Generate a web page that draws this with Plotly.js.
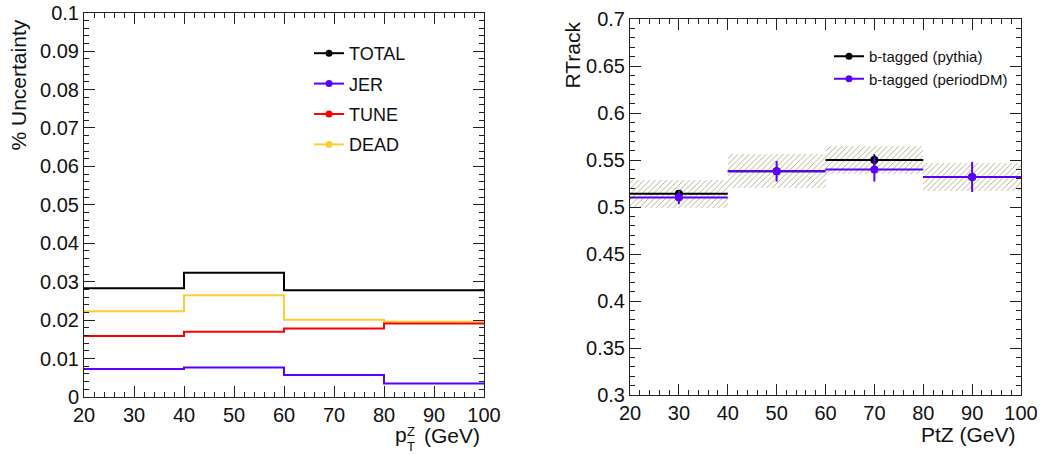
<!DOCTYPE html>
<html><head><meta charset="utf-8">
<script src="https://cdn.plot.ly/plotly-3.0.1.min.js"></script>
<style>html,body{margin:0;padding:0;background:#fff}#chart{width:1044px;height:455px}</style>
</head><body><div id="chart"></div>
<script>
// ---- Left panel data: % uncertainty per pT^Z bin ----
const binEdges = [20, 40, 60, 80, 100];
const leftNames = ['TOTAL', 'JER', 'TUNE', 'DEAD'];
const totalUnc = [0.0283, 0.0323, 0.0278, 0.0278];
const jerUnc   = [0.0073, 0.0077, 0.0057, 0.0035];
const tuneUnc  = [0.0159, 0.0170, 0.0178, 0.0191];
const deadUnc  = [0.0223, 0.0265, 0.0201, 0.0196];

// ---- Right panel data: RTrack vs PtZ ----
const binCenters   = [30, 50, 70, 90];
const rightNames   = ['b-tagged (pythia)', 'b-tagged (periodDM)'];
const pythiaVals   = [0.514, 0.538, 0.550, 0.532];
const pythiaStat   = [0.004, 0.004, 0.006, 0.004];
const pythiaSyst   = [0.015, 0.018, 0.015, 0.015];
const periodDMVals = [0.510, 0.538, 0.540, 0.532];
const periodDMStat = [0.007, 0.011, 0.013, 0.016];

// ---- styles ----
const FONT = 'Liberation Sans, Arial, Helvetica, sans-serif';
const C = {TOTAL:'#000000', JER:'#5a00ff', TUNE:'#ff0000', DEAD:'#ffcc33', pythia:'#000000', periodDM:'#5a00ff', hatch:'#aaaa80'};

const W = 1044, H = 455;
const px = v => v / W, py = v => 1 - v / H;

const traces = [];
const leftSeries = [[leftNames[0], totalUnc], [leftNames[1], jerUnc], [leftNames[2], tuneUnc], [leftNames[3], deadUnc]];

// step histograms (no legend)
leftSeries.slice().reverse().forEach(([name, vals]) => {
  traces.push({
    x: binEdges, y: vals.concat([vals[vals.length - 1]]),
    type: 'scatter', mode: 'lines', line: {shape: 'hv', color: C[name], width: 2},
    showlegend: false, xaxis: 'x', yaxis: 'y', hoverinfo: 'skip'
  });
});
// legend entries (line + marker)
leftSeries.forEach(([name], i) => {
  traces.push({
    x: [null], y: [null], type: 'scatter', mode: 'lines+markers', name: name,
    line: {color: C[name], width: 2}, marker: {color: C[name], size: 7},
    legend: 'legend', legendgroup: 'l' + i, xaxis: 'x', yaxis: 'y'
  });
});

// right: hatched systematic band around pythia
const binWidth = binEdges[1] - binEdges[0];
traces.push({
  type: 'bar', x: binCenters,
  y: pythiaSyst.map(e => 2 * e),
  base: pythiaVals.map((v, i) => v - pythiaSyst[i]),
  width: binCenters.map(() => binWidth),
  marker: {color: 'rgba(0,0,0,0)', line: {width: 0},
           pattern: {shape: '/', fgcolor: C.hatch, bgcolor: 'rgba(0,0,0,0)', size: 4, solidity: 0.22}},
  showlegend: false, xaxis: 'x2', yaxis: 'y2', hoverinfo: 'skip'
});
const rightSeries = [['pythia', rightNames[0], pythiaVals, pythiaStat], ['periodDM', rightNames[1], periodDMVals, periodDMStat]];
rightSeries.forEach(([key, name, vals, errs], i) => {
  traces.push({
    type: 'scatter', mode: 'markers', x: binCenters, y: vals,
    marker: {color: C[key], size: 8},
    error_x: {type: 'constant', value: binWidth / 2, color: C[key], thickness: 2, width: 0},
    error_y: {type: 'data', array: errs, color: C[key], thickness: 2, width: 0},
    showlegend: false, xaxis: 'x2', yaxis: 'y2'
  });
  traces.push({
    x: [null], y: [null], type: 'scatter', mode: 'lines+markers', name: name,
    line: {color: C[key], width: 2}, marker: {color: C[key], size: 7},
    legend: 'legend2', legendgroup: 'r' + i, xaxis: 'x2', yaxis: 'y2'
  });
});

const axisCommon = {
  showline: true, linecolor: '#222', linewidth: 1, mirror: 'allticks',
  ticks: 'inside', ticklen: 11, tickwidth: 1, tickcolor: '#222',
  showgrid: false, zeroline: false, automargin: false, fixedrange: true,
  tickfont: {family: FONT, size: 20, color: '#111'}
};
const xMinor = {ticks: 'inside', ticklen: 5, dtick: 2, tick0: 20, tickcolor: '#222', showgrid: false};

const layout = {
  width: W, height: H, margin: {l: 0, r: 0, t: 0, b: 0},
  paper_bgcolor: '#fff', plot_bgcolor: '#fff', bargap: 0, barmode: 'overlay',
  xaxis: Object.assign({}, axisCommon, {domain: [px(84), px(484)], range: [20, 100], tick0: 20, dtick: 10, anchor: 'y', minor: xMinor}),
  yaxis: Object.assign({}, axisCommon, {domain: [py(397), py(12.7)], range: [0, 0.1], tick0: 0, dtick: 0.01, anchor: 'x',
    minor: {ticks: 'inside', ticklen: 5, dtick: 0.002, tick0: 0, tickcolor: '#222', showgrid: false}}),
  xaxis2: Object.assign({}, axisCommon, {domain: [px(630), px(1021)], range: [20, 100], tick0: 20, dtick: 10, anchor: 'y2', minor: xMinor}),
  yaxis2: Object.assign({}, axisCommon, {domain: [py(395), py(19)], range: [0.3, 0.7], tick0: 0.3, dtick: 0.05, anchor: 'x2',
    minor: {ticks: 'inside', ticklen: 5, dtick: 0.01, tick0: 0.3, tickcolor: '#222', showgrid: false}}),
  legend: {x: px(309), y: py(35), xanchor: 'left', yanchor: 'top', bgcolor: 'rgba(0,0,0,0)',
    font: {family: FONT, size: 18, color: '#111'}, tracegroupgap: 4, traceorder: 'grouped'},
  legend2: {x: px(829), y: py(40), xanchor: 'left', yanchor: 'top', bgcolor: 'rgba(0,0,0,0)',
    font: {family: FONT, size: 15, color: '#111'}, tracegroupgap: 0, traceorder: 'grouped'},
  annotations: [
    {text: '% Uncertainty', xref: 'paper', yref: 'paper', x: px(18), y: py(18), xanchor: 'center', yanchor: 'top',
     textangle: -90, showarrow: false, font: {family: FONT, size: 21, color: '#111'}},
    {text: 'RTrack', xref: 'paper', yref: 'paper', x: px(572), y: py(20), xanchor: 'center', yanchor: 'top',
     textangle: -90, showarrow: false, font: {family: FONT, size: 21, color: '#111'}},
    {text: 'PtZ (GeV)', xref: 'paper', yref: 'paper', x: px(1018), y: py(434), xanchor: 'right', yanchor: 'middle',
     showarrow: false, font: {family: FONT, size: 21, color: '#111'}},
    {text: '(GeV)', xref: 'paper', yref: 'paper', x: px(482), y: py(435), xanchor: 'right', yanchor: 'middle',
     showarrow: false, font: {family: FONT, size: 21, color: '#111'}},
    {text: 'p', xref: 'paper', yref: 'paper', x: px(409), y: py(434), xanchor: 'right', yanchor: 'middle',
     showarrow: false, font: {family: FONT, size: 21, color: '#111'}},
    {text: 'Z', xref: 'paper', yref: 'paper', x: px(405), y: py(431), xanchor: 'left', yanchor: 'middle',
     showarrow: false, font: {family: FONT, size: 13, color: '#111'}},
    {text: 'T', xref: 'paper', yref: 'paper', x: px(405), y: py(446), xanchor: 'left', yanchor: 'middle',
     showarrow: false, font: {family: FONT, size: 13, color: '#111'}}
  ]
};

Plotly.newPlot('chart', traces, layout, {staticPlot: true, displayModeBar: false});
</script>
</body></html>
